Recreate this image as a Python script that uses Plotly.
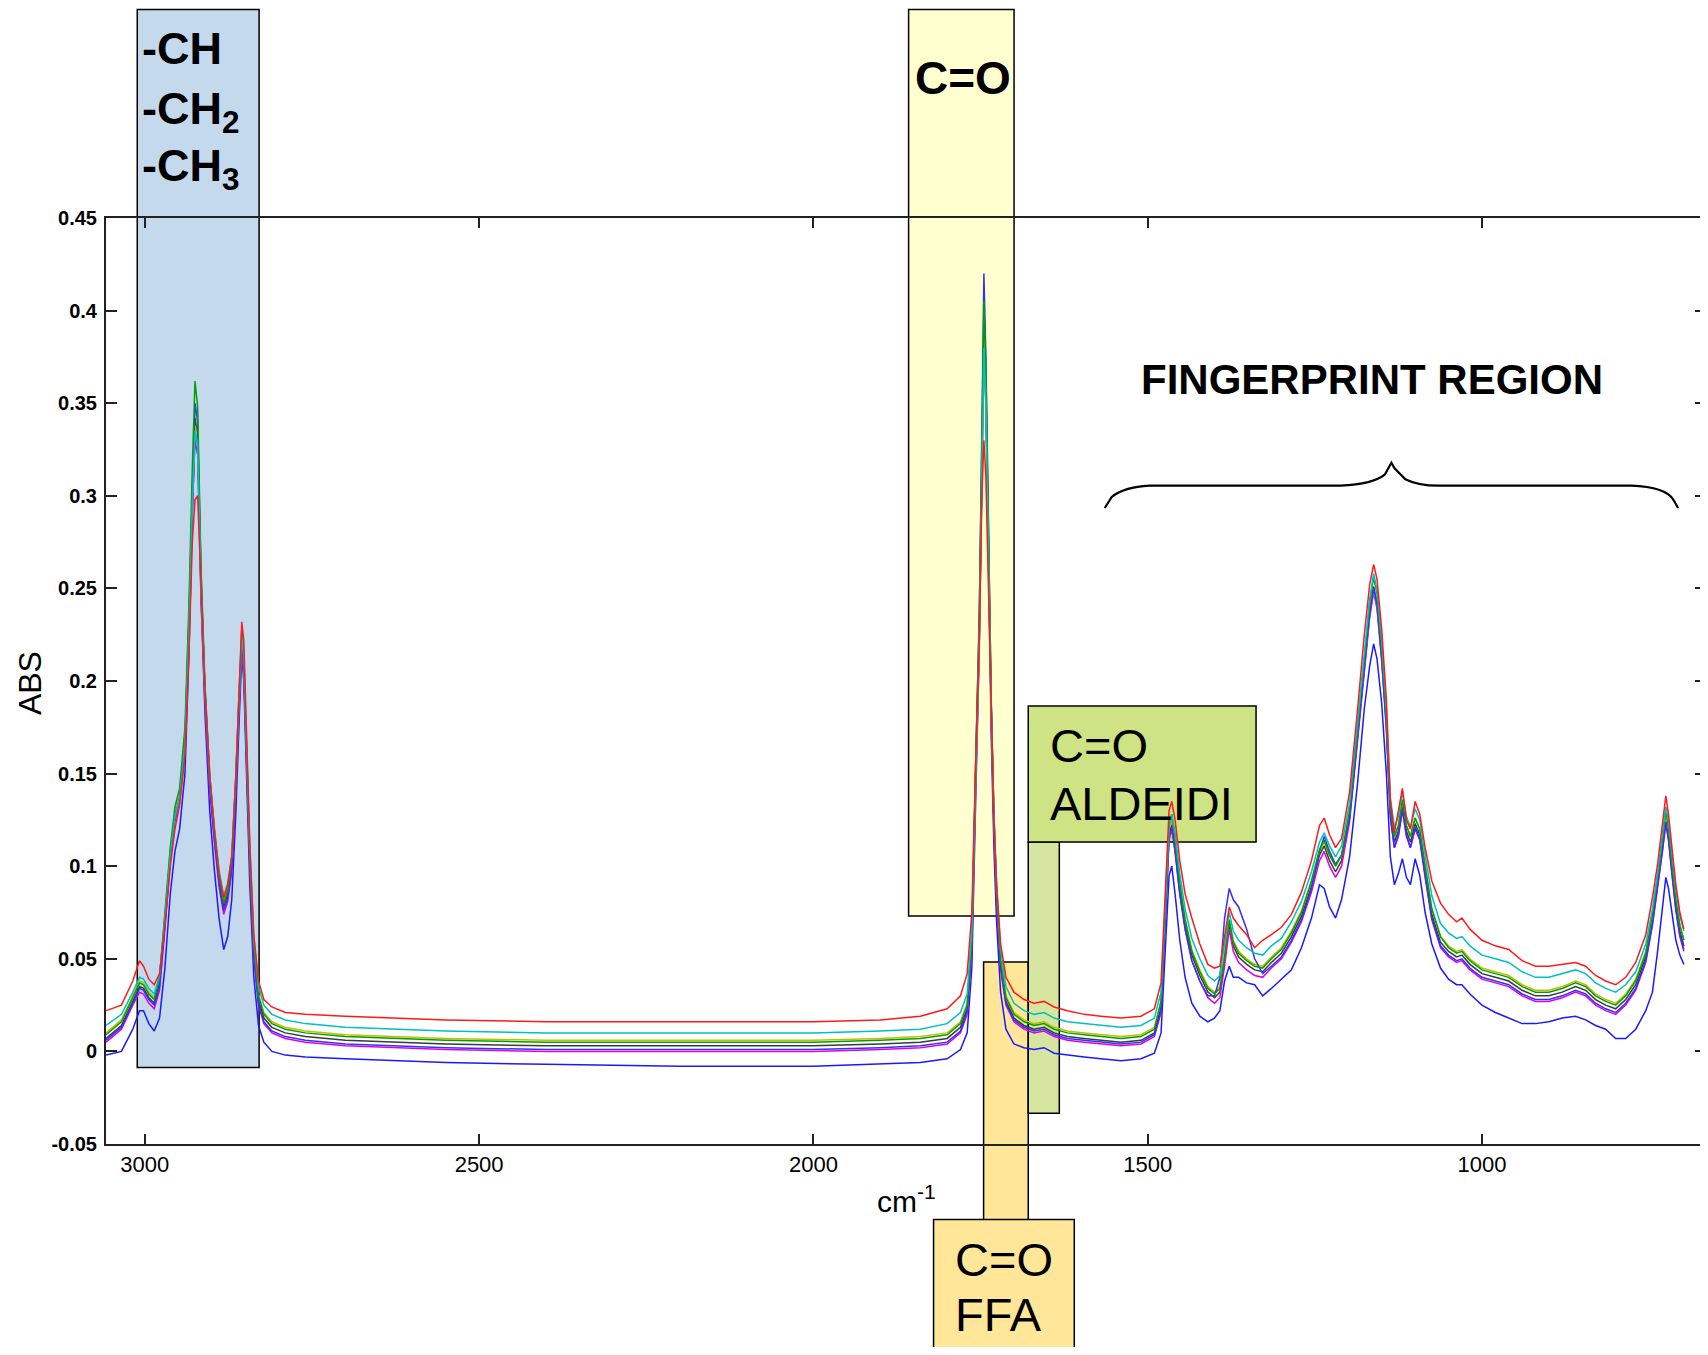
import plotly.graph_objects as go

# ---------------- data ----------------
wavenumber = [
    3058, 3035, 3018, 3008, 3002, 2994, 2986, 2978, 2970, 2962,
    2955, 2948, 2940, 2934, 2929, 2925, 2921, 2916, 2910, 2903,
    2896, 2889, 2882, 2876, 2870, 2864, 2859, 2855, 2852, 2848,
    2843, 2837, 2830, 2822, 2810, 2790, 2760, 2700, 2550, 2400,
    2200, 2000, 1900, 1840, 1800, 1780, 1770, 1763, 1757, 1752,
    1748, 1745, 1742, 1738, 1734, 1730, 1726, 1720, 1712, 1700,
    1685, 1670, 1655, 1640, 1620, 1595, 1570, 1540, 1510, 1490,
    1480, 1474, 1468, 1464, 1459, 1452, 1444, 1434, 1422, 1410,
    1400, 1392, 1385, 1378, 1372, 1364, 1352, 1340, 1328, 1315,
    1300, 1285, 1270, 1255, 1243, 1236, 1228, 1219, 1210, 1198,
    1186, 1176, 1168, 1162, 1157, 1150, 1143, 1137, 1131, 1125,
    1119, 1113, 1107, 1100, 1093, 1085, 1075, 1062, 1050, 1038,
    1030, 1018, 1000, 980, 960, 940, 920, 900, 880, 860,
    845, 830, 815, 800, 785, 770, 755, 745, 737, 730,
    725, 721, 716, 710, 704, 698,
]

abs_blue_low = [
    -0.002, 0.000, 0.012, 0.022, 0.022, 0.015, 0.011, 0.018, 0.045, 0.085,
    0.108, 0.120, 0.150, 0.215, 0.290, 0.335, 0.328, 0.245, 0.182, 0.130,
    0.098, 0.072, 0.055, 0.062, 0.082, 0.128, 0.178, 0.215, 0.200, 0.152,
    0.090, 0.040, 0.014, 0.005, 0.000, -0.002, -0.003, -0.004, -0.006, -0.007,
    -0.008, -0.008, -0.007, -0.006, -0.004, 0.001, 0.010, 0.045, 0.140, 0.215,
    0.310, 0.385, 0.350, 0.260, 0.170, 0.110, 0.070, 0.032, 0.012, 0.004,
    0.002, 0.001, 0.002, -0.001, -0.002, -0.003, -0.004, -0.005, -0.004, -0.001,
    0.010, 0.055, 0.095, 0.100, 0.085, 0.060, 0.040, 0.026, 0.019, 0.016,
    0.018, 0.022, 0.038, 0.046, 0.040, 0.040, 0.037, 0.036, 0.030, 0.034,
    0.039, 0.044, 0.056, 0.072, 0.090, 0.088, 0.078, 0.072, 0.082, 0.105,
    0.145, 0.185, 0.208, 0.220, 0.212, 0.188, 0.150, 0.105, 0.090, 0.096,
    0.104, 0.094, 0.090, 0.104, 0.095, 0.075, 0.058, 0.045, 0.039, 0.036,
    0.036, 0.031, 0.025, 0.021, 0.018, 0.015, 0.015, 0.016, 0.018, 0.019,
    0.017, 0.014, 0.012, 0.007, 0.007, 0.012, 0.022, 0.032, 0.055, 0.080,
    0.094, 0.088, 0.075, 0.060, 0.052, 0.047,
]

abs_black = [
    0.007, 0.014, 0.027, 0.035, 0.034, 0.029, 0.026, 0.037, 0.071, 0.107,
    0.129, 0.139, 0.169, 0.234, 0.303, 0.342, 0.332, 0.253, 0.194, 0.146,
    0.117, 0.093, 0.078, 0.085, 0.101, 0.144, 0.189, 0.221, 0.209, 0.164,
    0.104, 0.054, 0.028, 0.018, 0.013, 0.010, 0.008, 0.006, 0.004, 0.003,
    0.003, 0.003, 0.004, 0.005, 0.007, 0.013, 0.023, 0.059, 0.154, 0.224,
    0.318, 0.392, 0.358, 0.268, 0.184, 0.124, 0.084, 0.047, 0.027, 0.018,
    0.014, 0.012, 0.013, 0.010, 0.008, 0.007, 0.006, 0.005, 0.006, 0.010,
    0.024, 0.074, 0.117, 0.123, 0.111, 0.088, 0.069, 0.052, 0.041, 0.032,
    0.029, 0.032, 0.049, 0.069, 0.057, 0.051, 0.047, 0.044, 0.043, 0.048,
    0.053, 0.062, 0.073, 0.089, 0.106, 0.111, 0.103, 0.097, 0.103, 0.127,
    0.171, 0.209, 0.237, 0.251, 0.242, 0.214, 0.177, 0.129, 0.113, 0.119,
    0.133, 0.119, 0.113, 0.123, 0.117, 0.097, 0.074, 0.059, 0.054, 0.051,
    0.052, 0.047, 0.042, 0.040, 0.038, 0.033, 0.030, 0.030, 0.032, 0.035,
    0.033, 0.028, 0.025, 0.023, 0.028, 0.036, 0.051, 0.071, 0.091, 0.111,
    0.126, 0.117, 0.099, 0.079, 0.065, 0.057,
]

abs_magenta = [
    0.005, 0.012, 0.025, 0.032, 0.031, 0.026, 0.023, 0.033, 0.066, 0.102,
    0.124, 0.134, 0.163, 0.226, 0.292, 0.330, 0.322, 0.246, 0.188, 0.141,
    0.113, 0.089, 0.074, 0.081, 0.097, 0.140, 0.185, 0.216, 0.204, 0.160,
    0.100, 0.050, 0.025, 0.015, 0.010, 0.007, 0.005, 0.003, 0.001, 0.000,
    0.000, 0.000, 0.001, 0.002, 0.004, 0.010, 0.020, 0.055, 0.148, 0.218,
    0.310, 0.380, 0.348, 0.262, 0.180, 0.121, 0.081, 0.044, 0.025, 0.016,
    0.012, 0.010, 0.011, 0.008, 0.006, 0.005, 0.004, 0.003, 0.004, 0.008,
    0.021, 0.070, 0.114, 0.120, 0.108, 0.085, 0.066, 0.049, 0.038, 0.029,
    0.026, 0.029, 0.046, 0.066, 0.054, 0.048, 0.044, 0.041, 0.040, 0.045,
    0.050, 0.059, 0.070, 0.086, 0.103, 0.108, 0.100, 0.094, 0.100, 0.124,
    0.168, 0.206, 0.234, 0.248, 0.239, 0.211, 0.174, 0.126, 0.110, 0.116,
    0.130, 0.116, 0.110, 0.120, 0.114, 0.094, 0.071, 0.056, 0.051, 0.048,
    0.049, 0.044, 0.039, 0.037, 0.035, 0.030, 0.027, 0.027, 0.029, 0.032,
    0.030, 0.025, 0.022, 0.020, 0.025, 0.033, 0.048, 0.068, 0.088, 0.108,
    0.123, 0.114, 0.096, 0.076, 0.062, 0.054,
]

abs_olive = [
    0.010, 0.017, 0.030, 0.038, 0.037, 0.032, 0.029, 0.040, 0.073, 0.108,
    0.129, 0.139, 0.168, 0.232, 0.300, 0.338, 0.330, 0.252, 0.194, 0.147,
    0.119, 0.096, 0.081, 0.088, 0.104, 0.146, 0.190, 0.220, 0.209, 0.166,
    0.107, 0.057, 0.031, 0.021, 0.016, 0.013, 0.011, 0.009, 0.007, 0.006,
    0.006, 0.006, 0.007, 0.008, 0.010, 0.016, 0.026, 0.061, 0.152, 0.220,
    0.312, 0.385, 0.352, 0.266, 0.184, 0.126, 0.087, 0.050, 0.030, 0.021,
    0.017, 0.015, 0.016, 0.013, 0.011, 0.010, 0.009, 0.008, 0.009, 0.013,
    0.027, 0.076, 0.119, 0.125, 0.114, 0.091, 0.072, 0.055, 0.044, 0.035,
    0.032, 0.035, 0.052, 0.071, 0.060, 0.054, 0.050, 0.047, 0.046, 0.051,
    0.056, 0.065, 0.076, 0.092, 0.108, 0.113, 0.106, 0.100, 0.106, 0.129,
    0.172, 0.209, 0.236, 0.249, 0.241, 0.214, 0.178, 0.131, 0.116, 0.122,
    0.135, 0.122, 0.116, 0.126, 0.120, 0.100, 0.077, 0.062, 0.057, 0.054,
    0.055, 0.050, 0.045, 0.043, 0.041, 0.036, 0.033, 0.033, 0.035, 0.038,
    0.036, 0.031, 0.028, 0.026, 0.031, 0.039, 0.054, 0.073, 0.093, 0.113,
    0.127, 0.119, 0.101, 0.082, 0.068, 0.060,
]

abs_blue_mid = [
    0.006, 0.013, 0.026, 0.034, 0.033, 0.028, 0.025, 0.035, 0.068, 0.104,
    0.127, 0.137, 0.166, 0.230, 0.300, 0.350, 0.340, 0.258, 0.193, 0.144,
    0.115, 0.091, 0.076, 0.083, 0.099, 0.142, 0.187, 0.220, 0.207, 0.162,
    0.102, 0.052, 0.026, 0.016, 0.011, 0.008, 0.006, 0.004, 0.002, 0.001,
    0.001, 0.001, 0.002, 0.003, 0.005, 0.011, 0.022, 0.058, 0.160, 0.235,
    0.335, 0.420, 0.375, 0.275, 0.188, 0.126, 0.084, 0.046, 0.026, 0.017,
    0.013, 0.011, 0.012, 0.009, 0.007, 0.006, 0.005, 0.004, 0.005, 0.009,
    0.022, 0.072, 0.116, 0.122, 0.108, 0.085, 0.066, 0.049, 0.038, 0.030,
    0.030, 0.040, 0.072, 0.088, 0.082, 0.078, 0.066, 0.050, 0.042, 0.046,
    0.051, 0.060, 0.071, 0.088, 0.108, 0.116, 0.108, 0.101, 0.106, 0.126,
    0.170, 0.208, 0.236, 0.250, 0.241, 0.212, 0.175, 0.127, 0.110, 0.117,
    0.131, 0.117, 0.110, 0.121, 0.115, 0.095, 0.072, 0.057, 0.052, 0.049,
    0.050, 0.045, 0.040, 0.038, 0.036, 0.031, 0.028, 0.028, 0.030, 0.033,
    0.031, 0.026, 0.023, 0.021, 0.026, 0.034, 0.049, 0.069, 0.089, 0.109,
    0.124, 0.115, 0.097, 0.077, 0.063, 0.055,
]

abs_green = [
    0.009, 0.016, 0.029, 0.037, 0.036, 0.031, 0.028, 0.040, 0.075, 0.110,
    0.132, 0.142, 0.175, 0.242, 0.315, 0.362, 0.348, 0.262, 0.198, 0.149,
    0.119, 0.095, 0.080, 0.087, 0.104, 0.148, 0.194, 0.228, 0.214, 0.167,
    0.106, 0.056, 0.030, 0.020, 0.015, 0.012, 0.010, 0.008, 0.006, 0.005,
    0.005, 0.005, 0.006, 0.007, 0.009, 0.015, 0.025, 0.062, 0.160, 0.232,
    0.330, 0.405, 0.370, 0.278, 0.190, 0.128, 0.087, 0.049, 0.029, 0.020,
    0.016, 0.014, 0.015, 0.012, 0.010, 0.009, 0.008, 0.007, 0.008, 0.012,
    0.027, 0.078, 0.122, 0.128, 0.115, 0.091, 0.071, 0.054, 0.043, 0.034,
    0.031, 0.034, 0.051, 0.071, 0.059, 0.053, 0.049, 0.046, 0.045, 0.050,
    0.055, 0.064, 0.075, 0.092, 0.109, 0.114, 0.106, 0.100, 0.106, 0.130,
    0.175, 0.214, 0.242, 0.256, 0.247, 0.218, 0.180, 0.132, 0.116, 0.122,
    0.136, 0.122, 0.116, 0.126, 0.120, 0.100, 0.077, 0.062, 0.056, 0.053,
    0.054, 0.049, 0.044, 0.042, 0.040, 0.035, 0.032, 0.032, 0.034, 0.037,
    0.035, 0.030, 0.027, 0.025, 0.030, 0.038, 0.053, 0.074, 0.094, 0.114,
    0.130, 0.121, 0.102, 0.082, 0.068, 0.060,
]

abs_cyan = [
    0.014, 0.020, 0.032, 0.040, 0.039, 0.034, 0.031, 0.041, 0.072, 0.106,
    0.127, 0.137, 0.166, 0.228, 0.296, 0.335, 0.328, 0.252, 0.195, 0.149,
    0.121, 0.098, 0.084, 0.091, 0.106, 0.148, 0.192, 0.224, 0.212, 0.168,
    0.110, 0.061, 0.035, 0.025, 0.020, 0.017, 0.015, 0.013, 0.011, 0.010,
    0.010, 0.010, 0.011, 0.012, 0.015, 0.021, 0.031, 0.066, 0.156, 0.222,
    0.312, 0.380, 0.350, 0.266, 0.186, 0.129, 0.091, 0.055, 0.035, 0.026,
    0.022, 0.020, 0.021, 0.018, 0.016, 0.015, 0.014, 0.013, 0.014, 0.018,
    0.032, 0.080, 0.122, 0.128, 0.118, 0.096, 0.077, 0.061, 0.050, 0.041,
    0.038, 0.041, 0.057, 0.075, 0.065, 0.060, 0.056, 0.053, 0.052, 0.057,
    0.061, 0.070, 0.081, 0.097, 0.113, 0.118, 0.111, 0.105, 0.111, 0.134,
    0.178, 0.216, 0.244, 0.258, 0.249, 0.222, 0.185, 0.137, 0.121, 0.127,
    0.140, 0.127, 0.121, 0.131, 0.125, 0.106, 0.084, 0.069, 0.064, 0.061,
    0.062, 0.057, 0.052, 0.050, 0.048, 0.043, 0.040, 0.040, 0.042, 0.044,
    0.042, 0.037, 0.034, 0.032, 0.036, 0.043, 0.058, 0.077, 0.097, 0.117,
    0.132, 0.124, 0.106, 0.087, 0.073, 0.065,
]

abs_red = [
    0.022, 0.025, 0.038, 0.049, 0.046, 0.039, 0.036, 0.042, 0.068, 0.100,
    0.120, 0.133, 0.160, 0.215, 0.275, 0.298, 0.300, 0.250, 0.195, 0.150,
    0.120, 0.096, 0.083, 0.090, 0.105, 0.148, 0.195, 0.232, 0.222, 0.172,
    0.112, 0.063, 0.038, 0.028, 0.024, 0.021, 0.020, 0.019, 0.017, 0.016,
    0.016, 0.016, 0.017, 0.019, 0.023, 0.030, 0.042, 0.075, 0.160, 0.220,
    0.300, 0.330, 0.310, 0.250, 0.180, 0.125, 0.090, 0.058, 0.040, 0.032,
    0.028, 0.026, 0.027, 0.024, 0.022, 0.020, 0.019, 0.018, 0.019, 0.023,
    0.037, 0.088, 0.130, 0.135, 0.125, 0.103, 0.085, 0.072, 0.058, 0.047,
    0.045, 0.046, 0.062, 0.078, 0.072, 0.068, 0.063, 0.056, 0.060, 0.063,
    0.067, 0.074, 0.086, 0.103, 0.122, 0.126, 0.117, 0.110, 0.115, 0.140,
    0.185, 0.225, 0.252, 0.263, 0.255, 0.228, 0.190, 0.135, 0.118, 0.130,
    0.142, 0.125, 0.120, 0.135, 0.128, 0.110, 0.092, 0.080, 0.074, 0.070,
    0.072, 0.066, 0.060, 0.057, 0.055, 0.049, 0.046, 0.046, 0.047, 0.048,
    0.046, 0.041, 0.038, 0.036, 0.040, 0.048, 0.063, 0.083, 0.102, 0.122,
    0.138, 0.128, 0.110, 0.090, 0.075, 0.066,
]

series_names = ["blue_low", "black", "magenta", "olive", "blue_mid", "green", "cyan", "red"]
series_values = [abs_blue_low, abs_black, abs_magenta, abs_olive, abs_blue_mid,
                 abs_green, abs_cyan, abs_red]
series_colors = ["#1a1aff", "#3a3a3a", "#e000e0", "#bfbf00", "#3030ff",
                 "#00a000", "#00c0c0", "#ff1a1a"]

x_tick_values = [3000, 2500, 2000, 1500, 1000]
x_tick_labels = ["3000", "2500", "2000", "1500", "1000"]
y_tick_values = [-0.05, 0, 0.05, 0.1, 0.15, 0.2, 0.25, 0.3, 0.35, 0.4, 0.45]
y_tick_labels = ["-0.05", "0", "0.05", "0.1", "0.15", "0.2", "0.25", "0.3",
                 "0.35", "0.4", "0.45"]

# ---------------- layout geometry ----------------
# The page body has an 8px margin, so the figure is made smaller and the
# positions below are given in reference-page pixels.
OFF = 8
W, H = 1708 - OFF, 1355 - 2 * OFF
L, R, T, B = 106, 1708, 218, 1144       # plot area in page pixels
FONT = "Liberation Sans, Arial, sans-serif"


def px(x):
    return (x - L) / (R - L)


def py(y):
    return (B - y) / (B - T)


fig = go.Figure()

for name, vals, col in zip(series_names, series_values, series_colors):
    fig.add_trace(go.Scatter(
        x=wavenumber, y=vals, mode="lines", name=name,
        line=dict(color=col, width=1.5), hoverinfo="skip", showlegend=False,
    ))

# coloured boxes (drawn beneath the spectra)
boxes = [
    (137.3, 259.3, 9.5, 1067.5, "#c5d9ed"),
    (909.6, 1015.2, 9.5, 916.0, "#ffffd0"),
    (984.7, 1029.4, 962.0, 1220.0, "#ffe699"),
    (934.6, 1075.5, 1219.5, 1370.0, "#ffe699"),
    (1029.4, 1060.5, 842.0, 1113.3, "#d6e6a0"),
    (1029.4, 1257.5, 706.0, 842.0, "#cde384"),
]
for x0, x1, y0, y1, fill in boxes:
    fig.add_shape(type="rect", xref="paper", yref="paper",
                  x0=px(x0), x1=px(x1), y0=py(y1), y1=py(y0),
                  fillcolor=fill, line=dict(color="#000000", width=1.5),
                  layer="below")

# curly brace over the fingerprint region
brace_pts = [("M", 1106, 508), ("L", 1113, 497), ("Q", 1125, 487), ("", 1151, 485.7),
             ("L", 1342, 485.7), ("Q", 1375, 484), ("", 1386.6, 474.3),
             ("L", 1393, 462.7), ("L", 1396, 468), ("L", 1407, 479.3),
             ("Q", 1420, 486), ("", 1442, 485.7), ("L", 1633, 485.7),
             ("Q", 1668, 487), ("", 1675.5, 500), ("L", 1680, 508)]
path = " ".join(f"{c} {px(x):.5f},{py(y):.5f}" if c else f"{px(x):.5f},{py(y):.5f}"
                for c, x, y in brace_pts)
fig.add_shape(type="path", xref="paper", yref="paper", path=path,
              line=dict(color="#000000", width=2.2))


def label(text, x, y, size, bold=False, xanchor="center", angle=0):
    fig.add_annotation(
        xref="paper", yref="paper", x=px(x), y=py(y), text=text,
        showarrow=False, xanchor=xanchor, yanchor="middle", textangle=angle,
        font=dict(family=FONT, size=size, color="#000000",
                  weight="bold" if bold else "normal"),
    )


label("-CH", 140, 48.5, 45, bold=True, xanchor="left")
label("-CH<sub>2</sub>", 140, 111, 45, bold=True, xanchor="left")
label("-CH<sub>3</sub>", 140, 168, 45, bold=True, xanchor="left")
label("C=O", 964, 78, 46, bold=True)
label("FINGERPRINT REGION", 1374, 379, 42, bold=True)
label("C=O", 1049, 745, 47, xanchor="left")
label("ALDEIDI", 1049, 803, 47, xanchor="left")
label("C=O", 954, 1259, 47, xanchor="left")
label("FFA", 954, 1314, 47, xanchor="left")
label("ABS", 30, 683, 32, angle=-90)
label("cm<sup>-1</sup>", 908, 1199, 30)

fig.update_xaxes(
    range=[3058.1, 664.9], showgrid=False, zeroline=False,
    showline=True, linecolor="#222222", linewidth=2, mirror="ticks",
    ticks="inside", ticklen=10, tickwidth=1.5, tickcolor="#222222",
    tickvals=x_tick_values, ticktext=x_tick_labels,
    tickfont=dict(family="Liberation Sans Narrow, Arial Narrow, Liberation Sans, Arial",
                  size=22, color="#000000"),
    ticklabelstandoff=0,
)
fig.update_yaxes(
    range=[-0.05, 0.45], showgrid=False, zeroline=False,
    showline=True, linecolor="#222222", linewidth=2, mirror="ticks",
    ticks="inside", ticklen=11, tickwidth=1.5, tickcolor="#222222",
    tickvals=y_tick_values, ticktext=y_tick_labels,
    tickfont=dict(family=FONT, size=20, color="#000000", weight="bold"),
    ticklabelstandoff=3,
)
fig.update_layout(
    width=W, height=H, autosize=False,
    margin=dict(l=L - OFF, r=W - (R - OFF), t=T - OFF, b=H - (B - OFF), pad=0),
    paper_bgcolor="#ffffff", plot_bgcolor="rgba(0,0,0,0)",
    showlegend=False,
)

fig.write_html("out.html")
